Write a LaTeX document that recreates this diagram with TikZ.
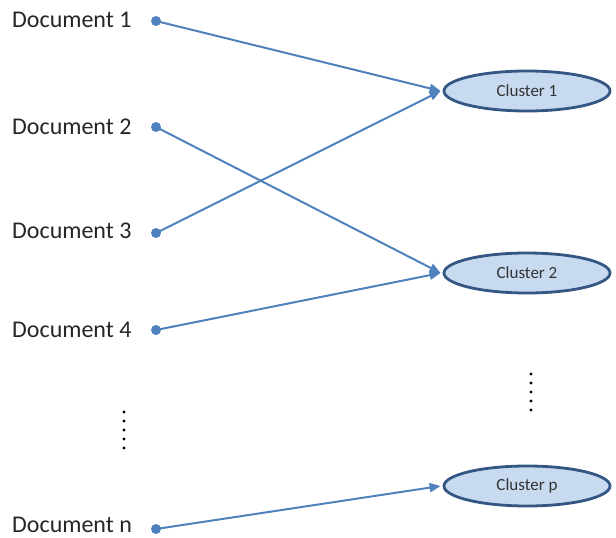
\documentclass[tikz,border=0pt]{standalone}
\usepackage{fontspec}
\setmainfont{Carlito}
\usetikzlibrary{shapes.geometric,arrows.meta}
\definecolor{lineblue}{RGB}{79,129,189}
\definecolor{fillblue}{RGB}{200,218,240}
\definecolor{edgeblue}{RGB}{52,86,130}
\begin{document}
\begin{tikzpicture}[x=1pt,y=-1pt,
  doclabel/.style={anchor=west,inner sep=0pt,font=\fontsize{24}{26}\selectfont,text=black!85},
  docdot/.style={circle,fill=lineblue,inner sep=0pt,minimum size=10pt},
  cluster/.style={ellipse,draw=edgeblue,line width=2.8pt,fill=fillblue,minimum width=166pt,minimum height=40pt,inner sep=0pt,font=\fontsize{17}{19}\selectfont,text=black!80},
  conn/.style={draw=lineblue,line width=2pt,-{Triangle[length=11pt,width=9pt]}},
  vdots/.style={circle,fill=black,inner sep=0pt,minimum size=3.2pt}
]
\useasboundingbox (0,0) rectangle (616,538);
\node[doclabel] (t1) at (12,20) {Document 1};
\node[doclabel] (t2) at (12,127) {Document 2};
\node[doclabel] (t3) at (12,231) {Document 3};
\node[doclabel] (t4) at (12,330) {Document 4};
\node[doclabel] (tn) at (12,525) {Document n};
\node[docdot] (d1) at (156,21) {};
\node[docdot] (d2) at (156,127) {};
\node[docdot] (d3) at (156,233) {};
\node[docdot] (d4) at (156,330) {};
\node[docdot] (dn) at (156,529) {};
\node[cluster] (c1) at (527,91) {Cluster 1};
\node[cluster] (c2) at (527,273) {Cluster 2};
\node[cluster] (cp) at (527,486) {Cluster p};
\draw[conn] (d1.center) -- ([xshift=-2pt]c1.west);
\draw[conn] (d3.center) -- ([xshift=-2pt]c1.west);
\draw[conn] (d2.center) -- ([xshift=-2pt]c2.west);
\draw[conn] (d4.center) -- ([xshift=-2pt]c2.west);
\draw[conn] (dn.center) -- ([xshift=-2pt]cp.west);
\foreach \i in {0,...,4} {
  \node[vdots] (l\i) at (124,412+9*\i) {};
  \node[vdots] (r\i) at (531,374+9*\i) {};
}
\end{tikzpicture}
\end{document}
